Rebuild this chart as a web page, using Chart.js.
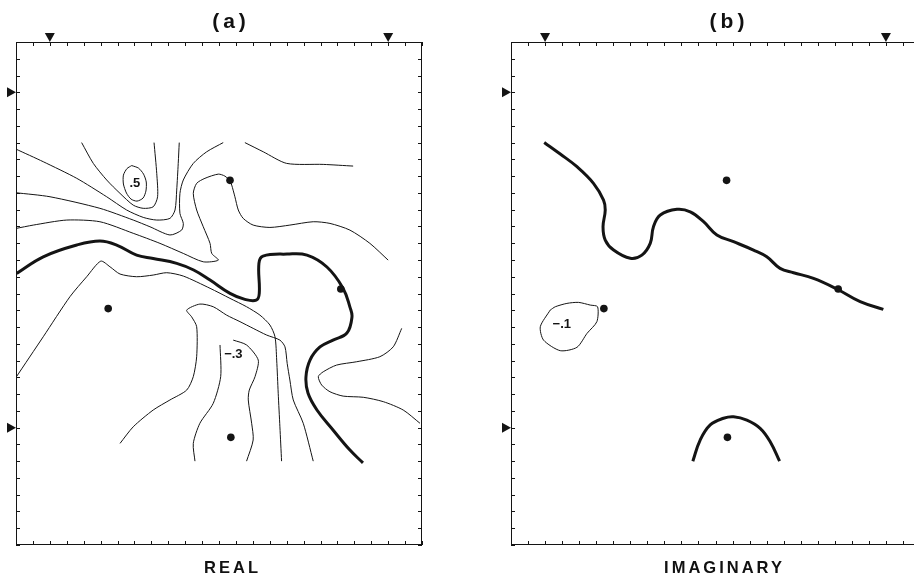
<!DOCTYPE html>
<html>
<head>
<meta charset="utf-8">
<script src="https://cdn.jsdelivr.net/npm/chart.js@4.4.1/dist/chart.umd.min.js"></script>
<style>
  html, body { margin: 0; padding: 0; background: #fff; }
  #page { position: relative; width: 914px; height: 578px; overflow: hidden; }
  canvas { position: absolute; top: 0; }
  #realChart { left: 0; }
  #imagChart { left: 457px; }
  .lbl { position: absolute; font-family: "Liberation Sans", Arial, sans-serif; font-weight: bold; color: #111;
         transform: translateX(-50%); white-space: nowrap; line-height: 1; }
  .title { top: 10px; font-size: 21px; letter-spacing: 4px; padding-left: 4px; }
  .axis { top: 559px; font-size: 16.5px; letter-spacing: 3px; padding-left: 3px; }
</style>
</head>
<body>
<div id="page">
  <canvas id="realChart" width="457" height="578"></canvas>
  <canvas id="imagChart" width="490" height="578"></canvas>
  <div class="lbl title" style="left:229px">(a)</div>
  <div class="lbl title" style="left:727px">(b)</div>
  <div class="lbl axis" style="left:231px">REAL</div>
  <div class="lbl axis" style="left:723px">IMAGINARY</div>
</div>
<script>
// grid size (units) and edge markers
const xMax = 24;
const yMax = 30;
const topMarks = [2, 22];
const sideMarks = [27, 7];

// source positions (same in both panels)
const sources = [[12.65, 21.75], [5.45, 14.1], [12.7, 6.42], [19.2, 15.27]];

// (a) REAL - zero contour (thick)
const realZero = [[0.04,16.2],[1.61,17.19],[3.59,17.89],[4.96,18.13],[5.95,17.89],[7.13,17.29],[8.11,17.09],
  [9.5,16.8],[10.5,16.4],[11.47,15.8],[12.65,15.01],[13.53,14.65],[14.2,14.6],[14.38,15.0],[14.36,16.8],
  [14.6,17.23],[16.02,17.35],[17.2,17.29],[18.38,16.58],[19.33,15.32],[19.74,14.19],[19.86,13.6],[19.56,12.64],
  [18.74,12.22],[17.97,11.81],[17.38,11.03],[17.14,10.02],[17.26,9.06],[17.79,8.05],[18.74,6.86],[19.74,5.66],[20.51,4.9]];

// (a) REAL - thin contours
const realA = [[3.88,24],[4.57,22.76],[5.36,21.77],[6.15,20.97],[6.93,20.27],[7.52,20.08],[8.11,20.17],
  [8.37,20.77],[8.32,22.16],[8.16,24]];
const realLoop = [[6.84,22.63],[7.24,22.48],[7.54,22.12],[7.7,21.65],[7.68,21.11],[7.51,20.69],[7.15,20.51],
  [6.8,20.63],[6.53,20.99],[6.35,21.53],[6.35,22.06],[6.56,22.45],[6.84,22.63]];
const realB = [[0,23.61],[1.61,22.86],[3.59,21.87],[5.36,20.77],[6.54,19.98],[7.52,19.54],[8.32,19.38],
  [9.1,19.48],[9.4,19.98],[9.5,21.17],[9.59,22.76],[9.65,24]];
const realC = [[0,21.01],[2.01,20.77],[4.96,20.08],[6.93,19.38],[7.92,18.98],[9.1,18.49],[9.79,18.78],
  [9.89,19.18],[9.69,19.78],[9.69,20.97],[9.89,21.77],[10.48,22.76],[11.27,23.45],[12.25,24]];
const realD = [[0,18.88],[1.02,19.08],[3.0,19.38],[4.96,19.28],[6.93,18.59],[8.51,17.99],[9.89,17.39],
  [11.07,16.89],[11.96,16.99],[11.57,17.39],[11.47,17.99],[11.07,18.98],[10.68,19.98],[10.48,20.97],
  [10.68,21.57],[11.17,21.87],[11.96,22.12],[12.35,22.0],[12.65,21.71],[12.75,21.47],[12.94,20.77],
  [13.14,19.98],[13.43,19.48],[14.02,19.08],[15.01,18.94],[16.19,19.08],[17.57,19.28],[18.56,19.18],
  [19.74,18.78],[20.92,17.99],[22.0,16.99]];
const realE = [[13.53,24],[14.62,23.45],[16.0,22.76],[18.16,22.7],[19.93,22.6]];
const realF = [[0,10.0],[1.61,12.42],[3.19,14.81],[4.18,16.0],[5.01,16.93],[5.56,16.59],[6.15,16.16],
  [7.13,16.0],[8.11,16.1],[8.91,16.24],[9.89,16.04],[11.47,15.31],[12.65,14.71],[13.63,14.21],[14.42,13.71],
  [15.01,13.12],[15.31,12.42],[15.41,11.03],[15.5,9.05],[15.6,7.05],[15.7,5]];
const realG = [[6.15,6.06],[6.93,7.05],[8.11,8.05],[9.1,8.65],[10.09,9.24],[10.48,10.04],[10.68,11.23],
  [10.68,13.02],[10.38,13.61],[10.09,14.01],[10.87,14.37],[11.66,14.21],[12.45,13.71],[13.24,13.32],
  [14.02,12.92],[14.82,12.52],[15.6,12.22],[15.9,11.82],[16.03,10.83],[16.19,9.84],[16.39,8.65],
  [16.98,7.26],[17.57,5]];
const realHLeft = [[12.06,11.93],[12.1,10.04],[11.66,8.45],[10.87,7.26],[10.48,6.06],[10.58,5]];
const realHRight = [[12.84,12.22],[13.63,11.93],[14.32,11.03],[14.13,10.04],[13.79,9.24],[13.73,8.65],
  [13.93,7.26],[14.02,6.26],[13.63,5]];
const realJ = [[22.8,12.92],[22.3,11.82],[21.51,11.23],[20.14,10.93],[18.95,10.73],[18.16,10.33],
  [17.87,10.04],[18.07,9.54],[18.56,9.14],[19.34,8.88],[20.53,8.81],[21.71,8.55],[22.89,8.05],[23.88,7.26]];
const realLabels = [['.5', 7.03, 21.57], ['\u2212.3', 12.85, 11.39]];

// (b) IMAGINARY - zero contours (thick) and the -.1 loop
const imagZero = [[1.95,24.01],[2.89,23.32],[3.87,22.56],[4.84,21.57],[5.43,20.57],[5.53,19.98],[5.4,18.98],
  [5.53,18.19],[6.02,17.59],[7.0,17.1],[7.68,17.29],[8.17,17.99],[8.36,18.98],[8.76,19.68],[9.74,20.02],
  [10.52,19.87],[11.3,19.28],[12.08,18.49],[13.06,18.09],[14.23,17.59],[15.01,17.19],[15.79,16.5],
  [16.58,16.24],[17.75,15.9],[19.12,15.27],[20.49,14.51],[21.85,14.05]];
const imagArch = [[10.67,5.0],[11.1,6.26],[11.69,7.16],[12.47,7.56],[13.06,7.65],[13.84,7.45],[14.62,6.96],
  [15.21,6.16],[15.76,5.0]];
const imagLoop = [[2.3,14.01],[1.72,13.02],[1.91,12.22],[2.89,11.59],[3.87,11.79],[4.46,12.62],[5.04,13.32],
  [5.08,14.21],[4.65,14.31],[3.96,14.47],[3.28,14.41],[2.6,14.21],[2.3,14.01]];
const imagLabels = [['\u2212.1', 2.98, 13.16]];

const ink = '#141414';
const toXY = arr => arr.map(([x, y]) => ({ x, y }));

function thin(points) {
  return { data: toXY(points), showLine: true, borderColor: ink, borderWidth: 1, pointRadius: 0, tension: 0.25 };
}
function thick(points) {
  return { data: toXY(points), showLine: true, borderColor: ink, borderWidth: 3, pointRadius: 0, tension: 0.4 };
}
function dots() {
  return { data: toXY(sources), showLine: false, pointRadius: 3.8, backgroundColor: ink, borderWidth: 0 };
}

// frame with inward ticks, edge triangles and contour labels
const framePlugin = {
  id: 'frame',
  afterDatasetsDraw(chart, args, opts) {
    const { ctx, chartArea: a, scales: { x, y } } = chart;
    ctx.save();
    ctx.strokeStyle = ink;
    ctx.lineWidth = 1;
    ctx.strokeRect(a.left + 0.5, a.top + 0.5, a.right - a.left - 1, a.bottom - a.top - 1);
    ctx.beginPath();
    for (let i = 0; i <= xMax; i++) {
      const px = Math.round(x.getPixelForValue(i)) + 0.5;
      ctx.moveTo(px, a.top); ctx.lineTo(px, a.top + 4);
      ctx.moveTo(px, a.bottom); ctx.lineTo(px, a.bottom - 4);
    }
    for (let j = 0; j <= yMax; j++) {
      const py = Math.round(y.getPixelForValue(j)) + 0.5;
      ctx.moveTo(a.left, py); ctx.lineTo(a.left + 4, py);
      ctx.moveTo(a.right, py); ctx.lineTo(a.right - 4, py);
    }
    ctx.stroke();

    ctx.fillStyle = ink;
    topMarks.forEach(m => {
      const px = x.getPixelForValue(m);
      ctx.beginPath();
      ctx.moveTo(px - 5, a.top - 9); ctx.lineTo(px + 5, a.top - 9); ctx.lineTo(px, a.top);
      ctx.closePath(); ctx.fill();
    });
    sideMarks.forEach(m => {
      const py = y.getPixelForValue(m);
      ctx.beginPath();
      ctx.moveTo(a.left - 9, py - 5); ctx.lineTo(a.left - 9, py + 5); ctx.lineTo(a.left, py);
      ctx.closePath(); ctx.fill();
    });

    ctx.font = 'bold 13px "Liberation Sans", Arial, sans-serif';
    ctx.textAlign = 'center';
    ctx.textBaseline = 'middle';
    (opts.labels || []).forEach(([t, lx, ly]) => {
      ctx.fillText(t, x.getPixelForValue(lx), y.getPixelForValue(ly));
    });
    ctx.restore();
  }
};

function makePanel(id, padding, datasets, labels) {
  return new Chart(document.getElementById(id), {
    type: 'scatter',
    data: { datasets },
    options: {
      responsive: false,
      animation: false,
      layout: { padding },
      scales: {
        x: { type: 'linear', min: 0, max: xMax, display: false },
        y: { type: 'linear', min: 0, max: yMax, display: false }
      },
      plugins: { legend: { display: false }, tooltip: { enabled: false }, frame: { labels } }
    },
    plugins: [framePlugin]
  });
}

makePanel('realChart', { left: 16, top: 42, right: 35, bottom: 33 }, [
  thick(realZero),
  thin(realA), thin(realLoop), thin(realB), thin(realC), thin(realD), thin(realE),
  thin(realF), thin(realG), thin(realHLeft), thin(realHRight), thin(realJ),
  dots()
], realLabels);

makePanel('imagChart', { left: 54, top: 42, right: 27, bottom: 33 }, [
  thick(imagZero), thick(imagArch), thin(imagLoop),
  dots()
], imagLabels);
</script>
</body>
</html>
